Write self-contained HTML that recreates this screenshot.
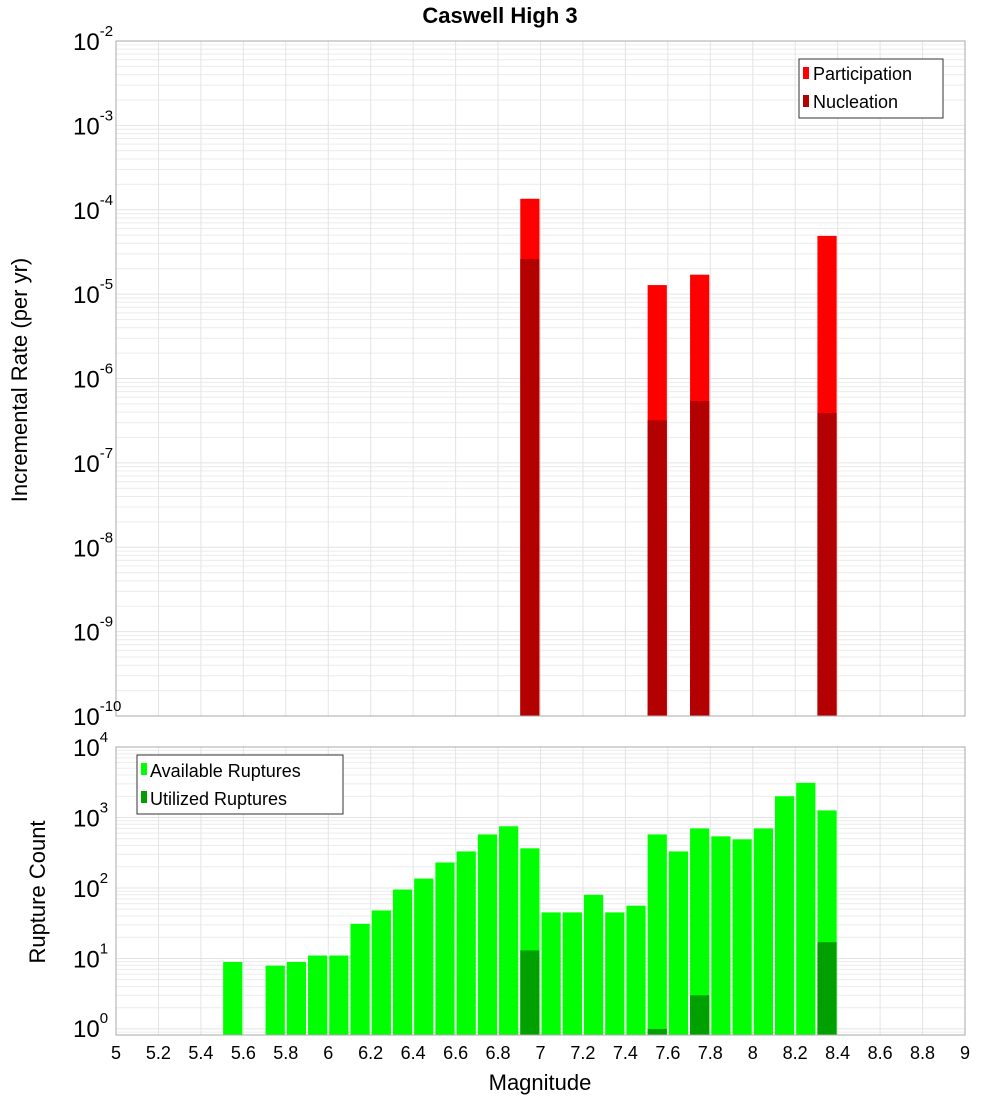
<!DOCTYPE html>
<html><head><meta charset="utf-8">
<style>
html,body{margin:0;padding:0;background:#fff;}
svg{display:block;font-family:"Liberation Sans","DejaVu Sans",sans-serif;}
</style></head>
<body>
<svg id="chart" width="1000" height="1100" viewBox="0 0 1000 1100" xmlns="http://www.w3.org/2000/svg">
<text x="500" y="23" text-anchor="middle" font-size="22" font-weight="bold">Caswell High 3</text>
<g id="grid"></g>
<g id="bars"></g>
<g id="axes"></g>
<text transform="translate(27,380) rotate(-90)" text-anchor="middle" font-size="22">Incremental Rate (per yr)</text>
<text transform="translate(45,892) rotate(-90)" text-anchor="middle" font-size="22">Rupture Count</text>
<text x="540" y="1090" text-anchor="middle" font-size="22">Magnitude</text>
<g>
<rect x="799" y="59" width="144" height="59" fill="#fff" stroke="#333"/>
<rect x="803" y="67" width="6" height="12" fill="#ff0000"/>
<text x="813" y="80" font-size="18">Participation</text>
<rect x="803" y="95" width="6" height="12" fill="#b30000"/>
<text x="813" y="108" font-size="18">Nucleation</text>
</g>
<g>
<rect x="137" y="755" width="206" height="59" fill="#fff" stroke="#333"/>
<rect x="141" y="763" width="6" height="12" fill="#00ff00"/>
<text x="150" y="777" font-size="18">Available Ruptures</text>
<rect x="141" y="791" width="6" height="12" fill="#00a000"/>
<text x="150" y="805" font-size="18">Utilized Ruptures</text>
</g>
</svg>
<script>
const topMags = [6.95, 7.55, 7.75, 8.35];
const participation = [1.35e-4, 1.28e-5, 1.7e-5, 4.9e-5];
const nucleation = [2.6e-5, 3.2e-7, 5.4e-7, 3.9e-7];
const botMags = [5.55,5.75,5.85,5.95,6.05,6.15,6.25,6.35,6.45,6.55,6.65,6.75,6.85,6.95,7.05,7.15,7.25,7.35,7.45,7.55,7.65,7.75,7.85,7.95,8.05,8.15,8.25,8.35];
const available = [8.9,7.9,8.9,11,11,31,48,95,136,230,330,575,750,365,45,45,80,45,56,575,330,700,540,490,700,2000,3100,1260];
const utilMags = [6.95, 7.55, 7.75, 8.35];
const utilized = [13, 1.0, 3, 17];
const xTicks = ["5","5.2","5.4","5.6","5.8","6","6.2","6.4","6.6","6.8","7","7.2","7.4","7.6","7.8","8","8.2","8.4","8.6","8.8","9"];
const topExps = [-2,-3,-4,-5,-6,-7,-8,-9,-10];
const botExps = [0,1,2,3,4];

const NS="http://www.w3.org/2000/svg";
const X0=116, X1=965;
function xs(m){return X0+(m-5)/4*(X1-X0);}
const TT=41, TB=716;
function yTop(v){return TT+(-2-Math.log10(v))/8*(TB-TT);}
const BT=747, BB=1035, BMIN=0.82;
function yBot(v){const lmin=Math.log10(BMIN);return BB-(Math.log10(v)-lmin)/(4-lmin)*(BB-BT);}
function mk(tag,attrs,parent){const e=document.createElementNS(NS,tag);for(const k in attrs)e.setAttribute(k,attrs[k]);parent.appendChild(e);return e;}
const grid=document.getElementById('grid'), bars=document.getElementById('bars'), axes=document.getElementById('axes');

// grids
[[TT,TB,yTop,-10,-2],[BT,BB,yBot,-1,4]].forEach(([t,b,yf,e0,e1])=>{
  for(let e=e0;e<e1;e++){for(let k=1;k<10;k++){const v=k*Math.pow(10,e);const y=yf(v);if(y<t-0.5||y>b+0.5)continue;
    const l=mk('line',{x1:X0,x2:X1,y1:y,y2:y,stroke:k===1?'#e4e4e4':'#ececec','stroke-width':1},grid);
    
    }}
  for(let i=0;i<xTicks.length;i++){const x=xs(parseFloat(xTicks[i]));
    const l=mk('line',{x1:x,x2:x,y1:t,y2:b,stroke:'#e4e4e4','stroke-width':1},grid);
    
    }
  const r=mk('rect',{x:X0,y:t,width:X1-X0,height:b-t,fill:'none',stroke:'#aaa'},axes);
  
  
});

const BW=0.1*(X1-X0)/4-2;
function bar(m,v,yf,base,color,name){const y=yf(v);const x=xs(m)-BW/2;
  const r=mk('rect',{x:x,y:y,width:BW,height:base-y,fill:color},bars);
  
  }
topMags.forEach((m,i)=>bar(m,participation[i],yTop,TB,'#ff0000','participation-bar'));
topMags.forEach((m,i)=>bar(m,nucleation[i],yTop,TB,'#b30000','nucleation-bar'));
botMags.forEach((m,i)=>bar(m,available[i],yBot,BB,'#00ff00','available-bar'));
utilMags.forEach((m,i)=>bar(m,utilized[i],yBot,BB,'#00a000','utilized-bar'));

// tick labels
xTicks.forEach(t=>{const tx=mk('text',{x:xs(parseFloat(t)),y:1059,'text-anchor':'middle','font-size':18},axes);tx.textContent=t;
  
  });
function ylab(e,y){const g=mk('text',{x:73,y:y+9,'font-size':24},axes);
  
  
  const a=mk('tspan',{},g);a.textContent='10';
  const s=mk('tspan',{dy:-14,'font-size':15},g);s.textContent=String(e);}
topExps.forEach(e=>ylab(e,yTop(Math.pow(10,e))));
botExps.forEach(e=>ylab(e,e===0?1028:yBot(Math.pow(10,e))));
</script>
</body></html>
